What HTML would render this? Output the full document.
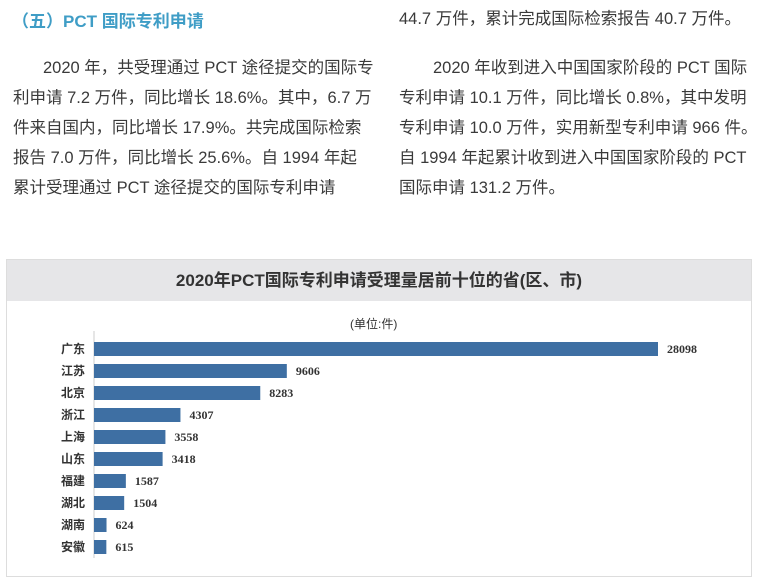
<!DOCTYPE html>
<html><head><meta charset="utf-8">
<style>
body{margin:0;width:758px;height:585px;background:#fff;position:relative;overflow:hidden;font-family:"Liberation Sans","Noto Sans CJK SC",sans-serif;color:#333}
.p{position:absolute;font-size:16.5px;line-height:30px;color:#3a3a3a;white-space:nowrap}
</style></head><body>
<div style="position:absolute;left:12px;top:7px;font-size:17px;font-weight:bold;color:#3f9dc6">（五）PCT 国际专利申请</div>
<div class="p" style="left:13px;top:53px;width:350px">
<div style="padding-left:30px">2020 年，共受理通过 PCT 途径提交的国际专</div>
<div>利申请 7.2 万件，同比增长 18.6%。其中，6.7 万</div>
<div>件来自国内，同比增长 17.9%。共完成国际检索</div>
<div>报告 7.0 万件，同比增长 25.6%。自 1994 年起</div>
<div>累计受理通过 PCT 途径提交的国际专利申请</div>
</div>
<div class="p" style="left:399px;top:4px;width:360px">
<div>44.7 万件，累计完成国际检索报告 40.7 万件。</div>
<div style="height:19px"></div>
<div style="padding-left:34px">2020 年收到进入中国国家阶段的 PCT 国际</div>
<div>专利申请 10.1 万件，同比增长 0.8%，其中发明</div>
<div>专利申请 10.0 万件，实用新型专利申请 966 件。</div>
<div>自 1994 年起累计收到进入中国国家阶段的 PCT</div>
<div>国际申请 131.2 万件。</div>
</div>
<div style="position:absolute;left:6px;top:259px;width:746px;height:318px;border:1px solid #ddd;box-sizing:border-box">
<div style="height:41px;background:#e6e6e8;text-align:center;line-height:41px;font-size:17px;font-weight:bold;color:#333">2020年PCT国际专利申请受理量居前十位的省(区、市)</div>
</div>
<div style="position:absolute;left:350px;top:315px;font-size:12px;color:#333">(单位:件)</div>
<svg id="chart" width="758" height="585" style="position:absolute;left:0;top:0"></svg>
<script>
const categories=["广东","江苏","北京","浙江","上海","山东","福建","湖北","湖南","安徽"];
const values=[28098,9606,8283,4307,3558,3418,1587,1504,624,615];
const NS="http://www.w3.org/2000/svg";
const svg=document.getElementById('chart');
const x0=94,maxPx=564,maxV=28098,y0=342,step=22,bh=14;
const xs=v=>x0+v/maxV*maxPx;
const ys=i=>y0+i*step;
const ax=document.createElementNS(NS,'line');


ax.setAttribute('x1',x0);ax.setAttribute('x2',x0);ax.setAttribute('y1',331);ax.setAttribute('y2',558);
ax.setAttribute('stroke','#ccc');ax.setAttribute('stroke-width','1');
svg.appendChild(ax);
categories.forEach((c,i)=>{
 const r=document.createElementNS(NS,'rect');
 
 
 r.setAttribute('x',x0);r.setAttribute('y',ys(i));
 r.setAttribute('width',xs(values[i])-x0);r.setAttribute('height',bh);
 r.setAttribute('fill','#3e6fa3');
 svg.appendChild(r);
 const t=document.createElementNS(NS,'text');
 
 
 t.setAttribute('x',85);t.setAttribute('y',ys(i)+11);
 t.setAttribute('text-anchor','end');t.setAttribute('font-size','12');t.setAttribute('font-weight','bold');
 t.setAttribute('fill','#333');
 t.textContent=c;svg.appendChild(t);
 const v=document.createElementNS(NS,'text');
 
 
 v.setAttribute('x',xs(values[i])+9);v.setAttribute('y',ys(i)+11);
 v.setAttribute('font-size','12');v.setAttribute('font-weight','bold');
 v.setAttribute('font-family','Liberation Serif,serif');v.setAttribute('fill','#333');
 v.textContent=values[i];svg.appendChild(v);
});
</script>
</body></html>
